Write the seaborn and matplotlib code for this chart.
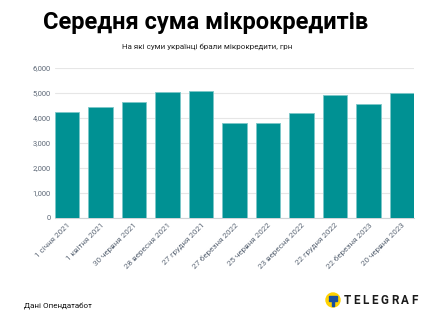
import matplotlib
matplotlib.use("Agg")
import matplotlib.pyplot as plt
import seaborn as sns
import pandas as pd
from matplotlib.patches import Circle, Rectangle

categories = ["1 січня 2021", "1 квітня 2021", "30 червня 2021", "28 вересня 2021",
              "27 грудня 2021", "27 березня 2022", "25 червня 2022", "23 вересня 2022",
              "22 грудня 2022", "22 березня 2023", "20 червня 2023"]
values = [4240, 4440, 4640, 5015, 5070, 3800, 3775, 4190, 4920, 4560, 4990]
yticks = [0, 1000, 2000, 3000, 4000, 5000, 6000]
ytick_labels = ["0", "1,000", "2,000", "3,000", "4,000", "5,000", "6,000"]

title = "Середня сума мікрокредитів"
subtitle = "На які суми українці брали мікрокредити, грн"
source = "Дані Опендатабот"
brand = "TELEGRAF"

sns.set_theme(style="white")
plt.rcParams["font.family"] = ["Roboto", "DejaVu Sans"]

df = pd.DataFrame({"date": categories, "value": values})

fig = plt.figure(figsize=(4.28, 3.21), dpi=100)
ax = fig.add_axes([55/428, 103/321, 359/428, 150.3/321])

w = 0.72
sns.barplot(data=df, x="date", y="value", color="#009193", saturation=1,
            width=w, ax=ax, edgecolor="#7cc7c8", linewidth=0.6, zorder=3)

ax.set_ylim(0, 6000)
ax.set_xlim(-w/2, len(categories) - 1 + w/2)
ax.set_yticks(yticks)
ax.set_yticklabels(ytick_labels, fontsize=5.4, color="#5b6675")
ax.set_xticks(range(len(categories)))
ax.set_xticklabels(categories, rotation=45, ha="right", rotation_mode="anchor",
                   fontsize=5.8, color="#5b6675")
ax.tick_params(axis="both", length=0, pad=3)
ax.set_xlabel("")
ax.set_ylabel("")
ax.grid(axis="y", color="#e6e6e6", linewidth=0.8, zorder=0)
for s in ["top", "right", "left"]:
    ax.spines[s].set_visible(False)
ax.spines["bottom"].set_color("#cfd3d6")
ax.spines["bottom"].set_linewidth(0.8)

fig.text(206/428, 1 - 22.5/321, title, ha="center", va="center",
         fontsize=17, fontweight="bold", color="black")
fig.text(207/428, 1 - 47/321, subtitle, ha="center", va="center",
         fontsize=5.8, color="#222222")
fig.text(24/428, 1 - 306/321, source, ha="left", va="center",
         fontsize=5.8, color="#111111")

# logo
lax = fig.add_axes([0, 0, 1, 1], facecolor="none")
lax.set_xlim(0, 428)
lax.set_ylim(0, 321)
lax.axis("off")
lax.add_patch(Circle((333, 21), 7, color="#ffd200"))
lax.add_patch(Rectangle((329, 23.3), 8, 2.0, color="#1a4fa0"))
lax.add_patch(Rectangle((329, 20.2), 8, 1.4, color="#1a4fa0"))
lax.add_patch(Rectangle((332, 15.5), 2.0, 8.5, color="#1a4fa0"))

renderer = fig.canvas.get_renderer()
x = 343.5
tracking = 2.6
for ch in brand:
    t = lax.text(x, 21, ch, ha="left", va="center", fontsize=8.4,
                 fontweight="bold", color="#1a1a1a")
    bb = t.get_window_extent(renderer=renderer)
    x += bb.width + tracking

fig.savefig("out.png", dpi=100, facecolor="white")
